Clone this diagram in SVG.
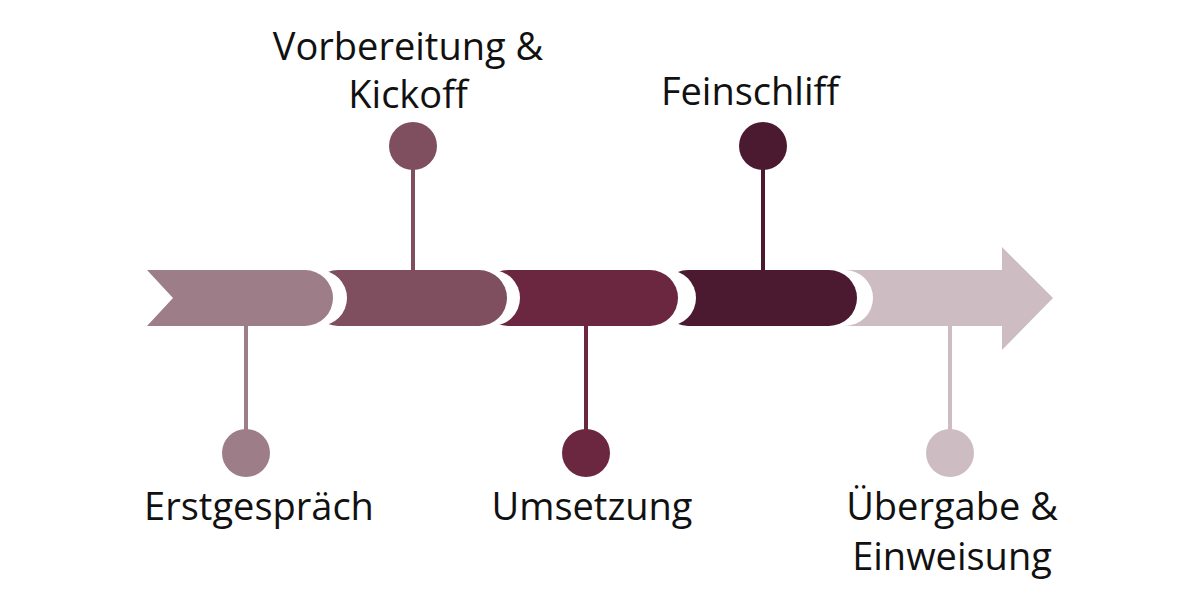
<svg xmlns="http://www.w3.org/2000/svg" width="1200" height="600" viewBox="0 0 1200 600">
<style>
text{font-family:"Open Sans","Noto Sans",sans-serif;font-size:38px;fill:#111;text-anchor:middle;font-weight:500}
.st{stroke-width:4}
</style>
<rect width="1200" height="600" fill="#fff"/>
<g id="connectors">
<line class="st" x1="246" y1="300" x2="246" y2="453" stroke="#9c7d88"/>
<line class="st" x1="413" y1="146" x2="413" y2="300" stroke="#7f4f60"/>
<line class="st" x1="586" y1="300" x2="586" y2="453" stroke="#6b2640"/>
<line class="st" x1="763" y1="146" x2="763" y2="300" stroke="#4b1a30"/>
<line class="st" x1="950" y1="300" x2="950" y2="453" stroke="#cdbcc2"/>
</g>
<g id="seg5"><path d="M840 270 H1002 V247 L1053 298 L1002 350 V326 H840 Z" fill="#cdbcc2"/></g>
<g id="seg4"><rect x="660" y="270" width="213" height="56" rx="28" fill="#fff"/><rect x="660" y="270" width="197" height="56" rx="28" fill="#4b1a30"/></g>
<g id="seg3"><rect x="480" y="270" width="216" height="56" rx="28" fill="#fff"/><rect x="480" y="270" width="198" height="56" rx="28" fill="#6b2640"/></g>
<g id="seg2"><rect x="310" y="270" width="210" height="56" rx="28" fill="#fff"/><rect x="310" y="270" width="197" height="56" rx="28" fill="#7f4f60"/></g>
<g id="seg1"><path d="M147 270 H319 A28 28 0 0 1 347 298 A28 28 0 0 1 319 326 H147 L173 298 Z" fill="#fff"/><path d="M147 270 H305 A28 28 0 0 1 333 298 A28 28 0 0 1 305 326 H147 L173 298 Z" fill="#9c7d88"/></g>
<g id="n1"><circle cx="246" cy="453" r="24" fill="#9c7d88"/><text x="259" y="520">Erstgespräch</text></g>
<g id="n2"><circle cx="413" cy="146" r="24" fill="#7f4f60"/><text x="408" y="60">Vorbereitung &amp;</text><text x="408" y="108">Kickoff</text></g>
<g id="n3"><circle cx="586" cy="453" r="24" fill="#6b2640"/><text x="592" y="520">Umsetzung</text></g>
<g id="n4"><circle cx="763" cy="146" r="24" fill="#4b1a30"/><text x="750" y="105">Feinschliff</text></g>
<g id="n5"><circle cx="950" cy="453" r="24" fill="#cdbcc2"/><text x="952" y="520">Übergabe &amp;</text><text x="952" y="570">Einweisung</text></g>
</svg>
